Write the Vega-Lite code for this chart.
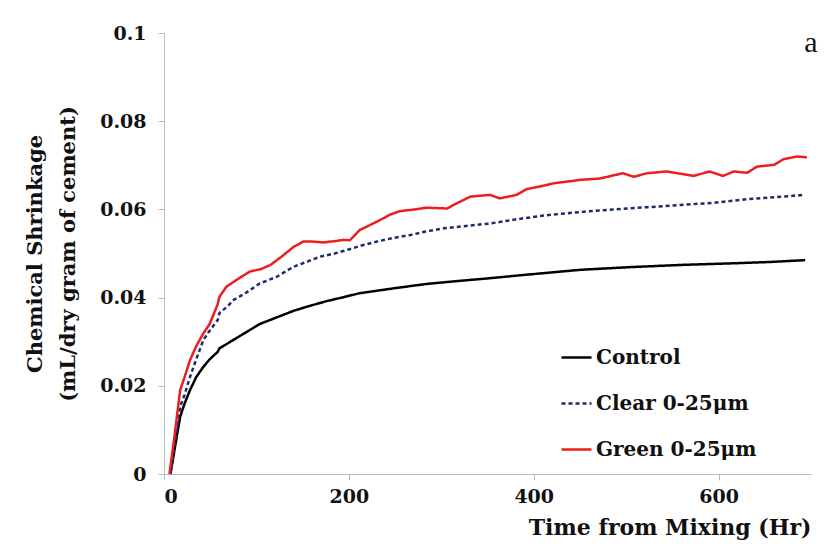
{
  "$schema": "https://vega.github.io/schema/vega-lite/v6.json",
  "width": 647,
  "height": 441,
  "autosize": {"type": "none"},
  "padding": {"left": 164, "top": 33, "right": 14, "bottom": 76},
  "background": "white",
  "config": {"view": {"stroke": null}, "font": "DejaVu Serif"},
  "datasets": {
    "curves": [
      {"t": 7, "v": 0, "s": "Control"}, {"t": 11, "v": 0.005, "s": "Control"}, {"t": 17.5, "v": 0.013, "s": "Control"}, {"t": 22.3, "v": 0.016, "s": "Control"}, {"t": 28.1, "v": 0.019, "s": "Control"}, {"t": 34.9, "v": 0.022, "s": "Control"}, {"t": 42.6, "v": 0.0243, "s": "Control"}, {"t": 49.4, "v": 0.026, "s": "Control"}, {"t": 58.1, "v": 0.0277, "s": "Control"}, {"t": 60, "v": 0.0285, "s": "Control"}, {"t": 73.5, "v": 0.0302, "s": "Control"}, {"t": 86.1, "v": 0.0318, "s": "Control"}, {"t": 103.5, "v": 0.034, "s": "Control"}, {"t": 121.8, "v": 0.0355, "s": "Control"}, {"t": 140.2, "v": 0.037, "s": "Control"}, {"t": 155.6, "v": 0.038, "s": "Control"}, {"t": 175.9, "v": 0.0392, "s": "Control"}, {"t": 194.3, "v": 0.0401, "s": "Control"}, {"t": 211.7, "v": 0.041, "s": "Control"}, {"t": 248.4, "v": 0.0421, "s": "Control"}, {"t": 284.1, "v": 0.0431, "s": "Control"}, {"t": 319.9, "v": 0.0438, "s": "Control"}, {"t": 352.7, "v": 0.0444, "s": "Control"}, {"t": 387.5, "v": 0.0451, "s": "Control"}, {"t": 450.3, "v": 0.0463, "s": "Control"}, {"t": 503.4, "v": 0.0469, "s": "Control"}, {"t": 558.5, "v": 0.0474, "s": "Control"}, {"t": 619.3, "v": 0.0478, "s": "Control"}, {"t": 658, "v": 0.0481, "s": "Control"}, {"t": 693.7, "v": 0.0485, "s": "Control"},

      {"t": 7, "v": 0, "s": "Clear 0-25μm"}, {"t": 11, "v": 0.006, "s": "Clear 0-25μm"}, {"t": 17.5, "v": 0.0153, "s": "Clear 0-25μm"}, {"t": 22.3, "v": 0.018, "s": "Clear 0-25μm"}, {"t": 28.1, "v": 0.022, "s": "Clear 0-25μm"}, {"t": 34.9, "v": 0.026, "s": "Clear 0-25μm"}, {"t": 42.6, "v": 0.0304, "s": "Clear 0-25μm"}, {"t": 49.4, "v": 0.0325, "s": "Clear 0-25μm"}, {"t": 58.1, "v": 0.0349, "s": "Clear 0-25μm"}, {"t": 60, "v": 0.0365, "s": "Clear 0-25μm"}, {"t": 68.7, "v": 0.038, "s": "Clear 0-25μm"}, {"t": 75.5, "v": 0.0395, "s": "Clear 0-25μm"}, {"t": 88, "v": 0.041, "s": "Clear 0-25μm"}, {"t": 103.5, "v": 0.0432, "s": "Clear 0-25μm"}, {"t": 121.8, "v": 0.0447, "s": "Clear 0-25μm"}, {"t": 140.2, "v": 0.047, "s": "Clear 0-25μm"}, {"t": 155.6, "v": 0.0482, "s": "Clear 0-25μm"}, {"t": 169.2, "v": 0.0493, "s": "Clear 0-25μm"}, {"t": 184.6, "v": 0.05, "s": "Clear 0-25μm"}, {"t": 198.1, "v": 0.0508, "s": "Clear 0-25μm"}, {"t": 213.6, "v": 0.0518, "s": "Clear 0-25μm"}, {"t": 230, "v": 0.0527, "s": "Clear 0-25μm"}, {"t": 247.4, "v": 0.0535, "s": "Clear 0-25μm"}, {"t": 266.7, "v": 0.0542, "s": "Clear 0-25μm"}, {"t": 283.1, "v": 0.055, "s": "Clear 0-25μm"}, {"t": 302.5, "v": 0.0557, "s": "Clear 0-25μm"}, {"t": 324.7, "v": 0.0562, "s": "Clear 0-25μm"}, {"t": 352.7, "v": 0.0568, "s": "Clear 0-25μm"}, {"t": 382.6, "v": 0.0578, "s": "Clear 0-25μm"}, {"t": 414.5, "v": 0.0587, "s": "Clear 0-25μm"}, {"t": 450.3, "v": 0.0594, "s": "Clear 0-25μm"}, {"t": 486, "v": 0.06, "s": "Clear 0-25μm"}, {"t": 522.7, "v": 0.0605, "s": "Clear 0-25μm"}, {"t": 558.5, "v": 0.061, "s": "Clear 0-25μm"}, {"t": 595.2, "v": 0.0615, "s": "Clear 0-25μm"}, {"t": 630.9, "v": 0.0623, "s": "Clear 0-25μm"}, {"t": 662.8, "v": 0.0628, "s": "Clear 0-25μm"}, {"t": 693.7, "v": 0.0633, "s": "Clear 0-25μm"},

      {"t": 5.9, "v": 0, "s": "Green 0-25μm"}, {"t": 11, "v": 0.008, "s": "Green 0-25μm"}, {"t": 17.5, "v": 0.019, "s": "Green 0-25μm"}, {"t": 22.3, "v": 0.022, "s": "Green 0-25μm"}, {"t": 28.1, "v": 0.0258, "s": "Green 0-25μm"}, {"t": 34.9, "v": 0.029, "s": "Green 0-25μm"}, {"t": 42.6, "v": 0.0319, "s": "Green 0-25μm"}, {"t": 49.4, "v": 0.034, "s": "Green 0-25μm"}, {"t": 58.1, "v": 0.0385, "s": "Green 0-25μm"}, {"t": 60, "v": 0.0402, "s": "Green 0-25μm"}, {"t": 67.7, "v": 0.0425, "s": "Green 0-25μm"}, {"t": 78.4, "v": 0.044, "s": "Green 0-25μm"}, {"t": 92.8, "v": 0.0459, "s": "Green 0-25μm"}, {"t": 105.4, "v": 0.0465, "s": "Green 0-25μm"}, {"t": 115.1, "v": 0.0474, "s": "Green 0-25μm"}, {"t": 126.7, "v": 0.0492, "s": "Green 0-25μm"}, {"t": 140.2, "v": 0.0515, "s": "Green 0-25μm"}, {"t": 150.8, "v": 0.0527, "s": "Green 0-25μm"}, {"t": 160.5, "v": 0.0527, "s": "Green 0-25μm"}, {"t": 172.1, "v": 0.0525, "s": "Green 0-25μm"}, {"t": 184.6, "v": 0.0528, "s": "Green 0-25μm"}, {"t": 194.3, "v": 0.0531, "s": "Green 0-25μm"}, {"t": 201.1, "v": 0.053, "s": "Green 0-25μm"}, {"t": 211.7, "v": 0.0553, "s": "Green 0-25μm"}, {"t": 223.3, "v": 0.0565, "s": "Green 0-25μm"}, {"t": 233.9, "v": 0.0576, "s": "Green 0-25μm"}, {"t": 244.5, "v": 0.0588, "s": "Green 0-25μm"}, {"t": 255.1, "v": 0.0596, "s": "Green 0-25μm"}, {"t": 271.6, "v": 0.06, "s": "Green 0-25μm"}, {"t": 284.1, "v": 0.0604, "s": "Green 0-25μm"}, {"t": 306.3, "v": 0.0602, "s": "Green 0-25μm"}, {"t": 313.1, "v": 0.061, "s": "Green 0-25μm"}, {"t": 331.4, "v": 0.0629, "s": "Green 0-25μm"}, {"t": 352.7, "v": 0.0633, "s": "Green 0-25μm"}, {"t": 363.3, "v": 0.0625, "s": "Green 0-25μm"}, {"t": 381.7, "v": 0.0633, "s": "Green 0-25μm"}, {"t": 392.3, "v": 0.0646, "s": "Green 0-25μm"}, {"t": 406.8, "v": 0.0652, "s": "Green 0-25μm"}, {"t": 421.3, "v": 0.0659, "s": "Green 0-25μm"}, {"t": 450.3, "v": 0.0667, "s": "Green 0-25μm"}, {"t": 471.5, "v": 0.067, "s": "Green 0-25μm"}, {"t": 496.6, "v": 0.0682, "s": "Green 0-25μm"}, {"t": 508.2, "v": 0.0674, "s": "Green 0-25μm"}, {"t": 522.7, "v": 0.0682, "s": "Green 0-25μm"}, {"t": 544, "v": 0.0686, "s": "Green 0-25μm"}, {"t": 561.4, "v": 0.068, "s": "Green 0-25μm"}, {"t": 572.9, "v": 0.0676, "s": "Green 0-25μm"}, {"t": 590.3, "v": 0.0686, "s": "Green 0-25μm"}, {"t": 604.8, "v": 0.0676, "s": "Green 0-25μm"}, {"t": 616.4, "v": 0.0686, "s": "Green 0-25μm"}, {"t": 630.9, "v": 0.0683, "s": "Green 0-25μm"}, {"t": 641.5, "v": 0.0697, "s": "Green 0-25μm"}, {"t": 659.9, "v": 0.0701, "s": "Green 0-25μm"}, {"t": 670.5, "v": 0.0714, "s": "Green 0-25μm"}, {"t": 685, "v": 0.072, "s": "Green 0-25μm"}, {"t": 695.6, "v": 0.0718, "s": "Green 0-25μm"}
    ],
    "panel": [{"t": 700, "v": 0.0977, "label": "a"}]
  },
  "layer": [
    {
      "data": {"name": "curves"},
      "mark": {"type": "line", "strokeWidth": 2.5},
      "encoding": {
        "x": {
          "field": "t", "type": "quantitative",
          "scale": {"domain": [0, 700], "nice": false},
          "axis": {
            "values": [0, 200, 400, 600],
            "title": "Time from Mixing (Hr)",
            "titleAnchor": "end",
            "titleAlign": "right",
            "titleFontSize": 22,
            "titleFontWeight": "bold",
            "titleColor": "#111",
            "titlePadding": 11,
            "labelFontSize": 19,
            "labelFontWeight": "bold",
            "labelColor": "#111",
            "labelPadding": 7,
            "grid": false,
            "domainColor": "#bbbbbb",
            "tickColor": "#bbbbbb",
            "tickSize": 6
          }
        },
        "y": {
          "field": "v", "type": "quantitative",
          "scale": {"domain": [0, 0.1], "nice": false},
          "axis": {
            "values": [0, 0.02, 0.04, 0.06, 0.08, 0.1],
            "format": ".2~f",
            "title": ["Chemical Shrinkage", "(mL/dry gram of cement)"],
            "titleFontSize": 21,
            "titleFontWeight": "bold",
            "titleColor": "#111",
            "titlePadding": 21,
            "titleLineHeight": 33,
            "labelFontSize": 19,
            "labelFontWeight": "bold",
            "labelColor": "#111",
            "labelPadding": 12,
            "grid": false,
            "domainColor": "#bbbbbb",
            "tickColor": "#bbbbbb",
            "tickSize": 6
          }
        },
        "color": {
          "field": "s", "type": "nominal",
          "scale": {"domain": ["Control", "Clear 0-25μm", "Green 0-25μm"], "range": ["#000000", "#1d2b6e", "#ee1d1d"]},
          "legend": {
            "title": null,
            "orient": "none",
            "legendX": 396,
            "legendY": 308,
            "symbolType": "stroke",
            "symbolSize": 900,
            "symbolStrokeWidth": 2.5,
            "labelFontSize": 20,
            "labelFontWeight": "bold",
            "labelColor": "#111",
            "labelOffset": 3,
            "labelLimit": 400,
            "rowPadding": 19
          }
        },
        "strokeDash": {
          "field": "s", "type": "nominal",
          "scale": {"domain": ["Control", "Clear 0-25μm", "Green 0-25μm"], "range": [[1, 0], [4, 3], [1, 0]]},
          "legend": {
            "title": null,
            "orient": "none",
            "legendX": 396,
            "legendY": 308,
            "symbolType": "stroke",
            "symbolSize": 900,
            "symbolStrokeWidth": 2.5,
            "labelFontSize": 20,
            "labelFontWeight": "bold",
            "labelColor": "#111",
            "labelOffset": 3,
            "labelLimit": 400,
            "rowPadding": 19
          }
        }
      }
    },
    {
      "data": {"name": "panel"},
      "mark": {"type": "text", "fontSize": 30, "font": "Liberation Serif", "color": "#111", "align": "center", "baseline": "middle"},
      "encoding": {
        "x": {"field": "t", "type": "quantitative"},
        "y": {"field": "v", "type": "quantitative"},
        "text": {"field": "label"}
      }
    }
  ]
}
